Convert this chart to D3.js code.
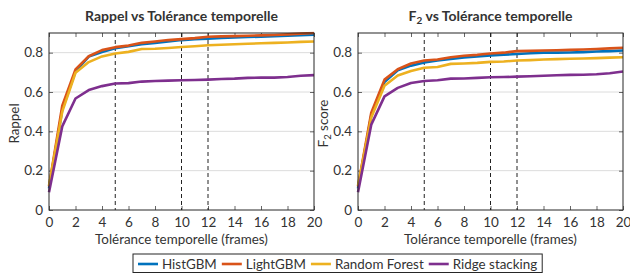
<!DOCTYPE html>
<html lang="fr">
<head>
<meta charset="UTF-8">
<title>Rappel et F2 vs Tolérance temporelle</title>
<script src="https://d3js.org/d3.v7.min.js"></script>
<style>
  html, body { margin: 0; padding: 0; background: #fff; }
  svg text { font-family: Lato, "DejaVu Sans", sans-serif; fill: #333; }
</style>
</head>
<body>
<div id="chart"></div>
<script>
// tolérance en frames
const tolerances = d3.range(0, 21);
const seriesNames = ["HistGBM", "LightGBM", "Random Forest", "Ridge stacking"];
const seriesColors = ["#0072BD", "#D95319", "#EDB120", "#7E2F8E"];
const markerTolerances = [5, 10, 12];
const yTicks = [0, 0.2, 0.4, 0.6, 0.8];
const xTicks = d3.range(0, 21, 2);

// Rappel
const recallHist   = [0.11, 0.51, 0.705, 0.78, 0.803, 0.822, 0.833, 0.843, 0.850, 0.857, 0.864, 0.868, 0.871, 0.875, 0.878, 0.880, 0.881, 0.884, 0.886, 0.889, 0.891];
const recallLight  = [0.12, 0.53, 0.715, 0.782, 0.813, 0.828, 0.836, 0.850, 0.857, 0.864, 0.869, 0.874, 0.881, 0.883, 0.884, 0.886, 0.888, 0.890, 0.893, 0.897, 0.900];
const recallRF     = [0.125, 0.50, 0.698, 0.752, 0.781, 0.796, 0.804, 0.819, 0.820, 0.824, 0.829, 0.833, 0.838, 0.840, 0.843, 0.845, 0.848, 0.850, 0.852, 0.855, 0.857];
const recallRidge  = [0.09, 0.425, 0.567, 0.61, 0.63, 0.643, 0.645, 0.653, 0.656, 0.658, 0.660, 0.661, 0.663, 0.666, 0.668, 0.672, 0.673, 0.673, 0.676, 0.683, 0.686];

// F2 score
const f2Hist  = [0.11, 0.48, 0.651, 0.71, 0.734, 0.75, 0.76, 0.768, 0.776, 0.781, 0.786, 0.790, 0.793, 0.797, 0.800, 0.800, 0.801, 0.803, 0.806, 0.808, 0.811];
const f2Light = [0.12, 0.495, 0.663, 0.716, 0.745, 0.76, 0.765, 0.777, 0.784, 0.789, 0.796, 0.800, 0.808, 0.809, 0.811, 0.812, 0.814, 0.816, 0.819, 0.822, 0.825];
const f2RF    = [0.125, 0.47, 0.632, 0.684, 0.707, 0.723, 0.727, 0.743, 0.745, 0.748, 0.753, 0.755, 0.760, 0.762, 0.765, 0.767, 0.769, 0.770, 0.772, 0.775, 0.777];
const f2Ridge = [0.09, 0.434, 0.578, 0.621, 0.646, 0.656, 0.660, 0.668, 0.669, 0.672, 0.675, 0.676, 0.678, 0.680, 0.683, 0.685, 0.687, 0.688, 0.690, 0.695, 0.704];

const width = 630, height = 273;
const svg = d3.select("#chart").append("svg")
    .attr("width", width)
    .attr("height", height);

function drawPanel(left, title, yLabel, series) {
    const plotW = 265, plotH = 177, top = 33;
    const x = d3.scaleLinear().domain([0, 20]).range([0, plotW]);
    const y = d3.scaleLinear().domain([0, 0.9]).range([plotH, 0]);

    const g = svg.append("g").attr("transform", `translate(${left},${top})`);

    // grille horizontale
    g.append("g").selectAll("line")
        .data(yTicks.slice(1))
        .join("line")
        .attr("x1", 0).attr("x2", plotW)
        .attr("y1", d => y(d)).attr("y2", d => y(d))
        .attr("stroke", "#dcdcdc").attr("stroke-width", 1);

    // axes (ticks vers l'intérieur)
    const xAxis = g.append("g").attr("transform", `translate(0,${plotH})`)
        .call(d3.axisBottom(x).tickValues(xTicks).tickSize(-4).tickPadding(7).tickFormat(d3.format("d")));
    const xTop = g.append("g")
        .call(d3.axisTop(x).tickValues(xTicks).tickSize(-4).tickFormat(""));
    const yAxis = g.append("g")
        .call(d3.axisLeft(y).tickValues(yTicks).tickSize(-4).tickPadding(6).tickFormat(d => d === 0 ? "0" : d3.format(".1f")(d)));
    const yRight = g.append("g").attr("transform", `translate(${plotW},0)`)
        .call(d3.axisRight(y).tickValues(yTicks).tickSize(-4).tickFormat(""));

    [xAxis, xTop, yAxis, yRight].forEach(a => {
        a.select(".domain").remove();
        a.selectAll(".tick line").attr("stroke", "#666");
    });
    [xAxis, yAxis].forEach(a => a.selectAll("text").attr("font-size", 13.5).attr("fill", "#333"));

    // tolérances repères
    g.append("g").selectAll("line")
        .data(markerTolerances)
        .join("line")
        .attr("x1", d => x(d)).attr("x2", d => x(d))
        .attr("y1", 0).attr("y2", plotH)
        .attr("stroke", "#222").attr("stroke-width", 1)
        .attr("stroke-dasharray", "4,3");

    const line = d3.line()
        .x((d, i) => x(tolerances[i]))
        .y(d => y(d));

    const clipId = "clip-" + left;
    g.append("clipPath").attr("id", clipId)
        .append("rect").attr("x", -2).attr("y", -1.5).attr("width", plotW + 4).attr("height", plotH + 3);

    g.append("g").attr("clip-path", `url(#${clipId})`)
        .selectAll("path")
        .data(series)
        .join("path")
        .attr("d", d => line(d))
        .attr("fill", "none")
        .attr("stroke", (d, i) => seriesColors[i])
        .attr("stroke-width", 2.6)
        .attr("stroke-linejoin", "round");

    // cadre
    g.append("rect")
        .attr("width", plotW).attr("height", plotH)
        .attr("fill", "none").attr("stroke", "#262626").attr("stroke-width", 1);

    // titre
    const t = g.append("text")
        .attr("x", plotW / 2).attr("y", -12)
        .attr("text-anchor", "middle")
        .attr("font-size", 14).attr("font-weight", "bold").attr("fill", "#222");
    if (title.startsWith("F2")) {
        t.append("tspan").text("F");
        t.append("tspan").attr("font-size", 10).attr("dy", 3).text("2");
        t.append("tspan").attr("dy", -3).text(" vs Tolérance temporelle");
    } else {
        t.text(title);
    }

    g.append("text")
        .attr("x", plotW / 2).attr("y", plotH + 34)
        .attr("text-anchor", "middle")
        .attr("font-size", 13.4).attr("fill", "#444")
        .text("Tolérance temporelle (frames)");

    const yl = g.append("text")
        .attr("transform", `translate(-30,${plotH / 2 + 2}) rotate(-90)`)
        .attr("text-anchor", "middle")
        .attr("font-size", 13.4).attr("fill", "#444");
    if (yLabel.startsWith("F2")) {
        yl.append("tspan").text("F");
        yl.append("tspan").attr("font-size", 9.5).attr("dy", 3).text("2");
        yl.append("tspan").attr("dy", -3).text(" score");
    } else {
        yl.text(yLabel);
    }
}

drawPanel(49, "Rappel vs Tolérance temporelle", "Rappel", [recallHist, recallLight, recallRF, recallRidge]);
drawPanel(358, "F2 vs Tolérance temporelle", "F2 score", [f2Hist, f2Light, f2RF, f2Ridge]);

// légende
const legend = svg.append("g").attr("transform", "translate(133,254)");
const legendBox = legend.append("rect")
    .attr("height", 18.5)
    .attr("fill", "#fff").attr("stroke", "#262626").attr("stroke-width", 1);
let lx = 5;
seriesNames.forEach((name, i) => {
    legend.append("line")
        .attr("x1", lx).attr("x2", lx + 20)
        .attr("y1", 10).attr("y2", 10)
        .attr("stroke", seriesColors[i]).attr("stroke-width", 2.6);
    const txt = legend.append("text")
        .attr("x", lx + 24).attr("y", 14.5)
        .attr("font-size", 13.4).attr("fill", "#222")
        .text(name);
    lx += 24 + txt.node().getComputedTextLength() + 5;
});
legendBox.attr("width", lx);
</script>
</body>
</html>
